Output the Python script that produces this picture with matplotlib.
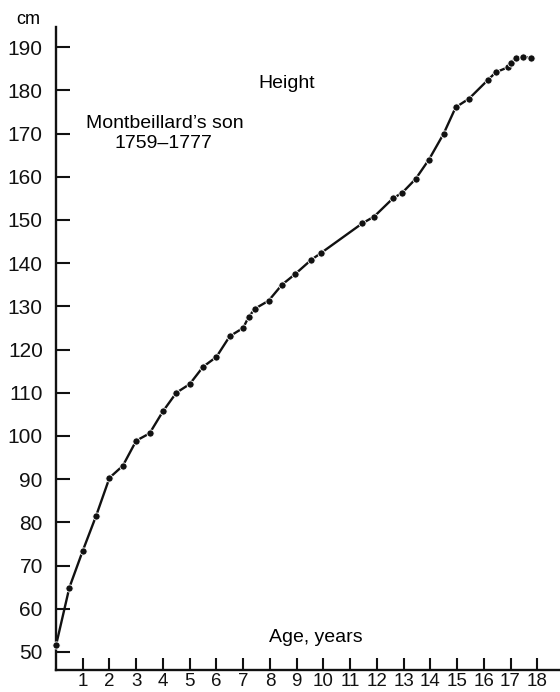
import matplotlib
matplotlib.use('Agg')
import matplotlib.pyplot as plt

# Montbeillard's son, height by age
age = [0.0, 0.5, 1.0, 1.5, 2.0, 2.5, 3.0, 3.5, 4.0, 4.5, 5.0, 5.5, 6.0,
       6.5, 7.0, 7.2, 7.45, 7.95, 8.45, 8.95, 9.55, 9.9, 11.45, 11.9,
       12.6, 12.95, 13.45, 13.95, 14.5, 14.95, 15.45, 16.15, 16.45,
       16.92, 17.0, 17.2, 17.45, 17.75]
height = [51.5, 64.9, 73.4, 81.5, 90.3, 93.1, 98.9, 100.6, 105.7, 110.0,
          112.0, 116.0, 118.3, 123.1, 125.0, 127.5, 129.5, 131.3, 135.0,
          137.5, 140.8, 142.3, 149.2, 150.8, 155.0, 156.3, 159.5, 164.0,
          170.0, 176.1, 178.1, 182.4, 184.2, 185.4, 186.4, 187.4, 187.8,
          187.6]

x_ticks = list(range(1, 19))
y_ticks = list(range(50, 200, 10))

plt.rcParams['font.family'] = ['Liberation Sans', 'DejaVu Sans']

fig = plt.figure(figsize=(5.6, 6.92), dpi=100)
ax = fig.add_axes([0.1, 0.0311, 0.9, 0.930])

ax.plot(age, height, color='#111111', lw=1.7, marker='o', ms=5.2,
        mfc='#111111', mec='white', mew=0.6, clip_on=False, zorder=3)

ax.set_xlim(0, 18.85)
ax.set_ylim(45.7, 194.7)

for s in ['top', 'right']:
    ax.spines[s].set_visible(False)
for s in ['left', 'bottom']:
    ax.spines[s].set_linewidth(1.7)
    ax.spines[s].set_color('#111111')

ax.set_xticks(x_ticks)
ax.set_yticks(y_ticks)
ax.tick_params(axis='x', direction='in', length=9, width=1.5, pad=2,
               labelsize=13.5, colors='#111111')
ax.tick_params(axis='y', direction='in', length=10, width=1.5, pad=9.5,
               labelsize=15, colors='#111111')

fig.text(16 / 560, 1 - 20 / 692, 'cm', fontsize=13, ha='left', va='center')
fig.text(287 / 560, 1 - 84 / 692, 'Height', fontsize=14,
         ha='center', va='center')
fig.text(165 / 560, 1 - 123 / 692, 'Montbeillard\u2019s son', fontsize=14,
         ha='center', va='center')
fig.text(163 / 560, 1 - 144 / 692, '1759\u20131777', fontsize=14,
         ha='center', va='center')
fig.text(316 / 560, 1 - 638 / 692, 'Age, years', fontsize=14,
         ha='center', va='center')

fig.savefig('out.png', dpi=100)
